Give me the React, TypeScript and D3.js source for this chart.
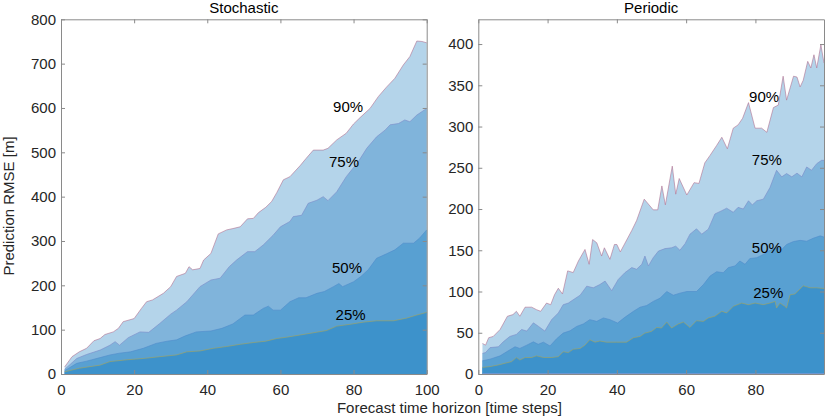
import * as d3 from "d3";
import { useEffect, useRef } from "react";

type Pt = [number, number];

// Stochastic panel: percentile curves, [time step, RMSE]
const stoch90: Pt[] = [
  [1, 16], [3, 39], [5, 50], [7, 58], [9, 75], [10.7, 80], [12, 89], [14.3, 95], [15.7, 103], [17, 118],
  [20, 125], [22, 148], [23.4, 163], [25, 167], [28, 182], [30, 197], [31.6, 220], [34, 227], [35, 242],
  [36, 235], [38, 238], [39, 257], [41, 272], [43, 316], [45.3, 325], [47, 328], [49, 332], [51, 350],
  [52.6, 351], [54, 364], [56, 376], [57.6, 389], [59, 409], [60.8, 438], [62.6, 445], [65.4, 470],
  [67, 486], [69, 505], [71.7, 505], [73, 509], [75.4, 528], [78, 543], [80, 564], [82, 580], [84.5, 599],
  [86.8, 626], [89, 647], [91.3, 667], [93.6, 697], [95.4, 716], [97.3, 751], [98.7, 750], [100, 747],
];
const stoch75: Pt[] = [
  [1, 10.5], [4.3, 35], [7, 44], [10.7, 54], [13.4, 65], [14.8, 73], [16, 65], [18.4, 82], [21.6, 95],
  [24, 94], [27, 114], [30, 135], [31.6, 144], [34.4, 163], [38, 197], [41, 212], [43.5, 216], [46, 242],
  [48, 257], [51, 276], [53, 276], [55.3, 291], [58, 313], [60, 332], [62.6, 344], [63.5, 355], [65.8, 358],
  [67.6, 385], [70, 392], [71.7, 400], [73, 391], [75.4, 411], [78, 445], [81.3, 479], [83.6, 509],
  [86.3, 535], [88.6, 550], [90, 562], [92.3, 565], [94, 573], [95.4, 569], [97.3, 584], [100, 599],
];
const stoch50: Pt[] = [
  [1, 7.5], [4.3, 24], [7, 29], [10.7, 37], [13.4, 43], [16, 47], [19, 50], [22.5, 58], [26, 69], [29, 74],
  [31.6, 77], [34, 86], [37, 95], [41, 97], [44, 103], [47, 113], [50.3, 133], [52.6, 133], [55.3, 148],
  [56.7, 153], [58, 144], [60, 144], [62.6, 163], [65, 172], [67, 172], [70, 182], [72, 186], [74.5, 197],
  [76, 204], [77, 197], [80, 208], [82, 220], [84, 235], [86.3, 261], [89, 271], [91.3, 280], [93.6, 295],
  [96.4, 295], [98, 306], [100, 325],
];
const stoch25: Pt[] = [
  [1, 5], [5, 13], [10.7, 20], [13.4, 28], [18, 32], [22.5, 35], [27, 39], [31.6, 43], [34.4, 50], [38, 52],
  [41.7, 58], [45.3, 62], [49, 67], [52.6, 71], [56, 74], [59, 80], [61.7, 83], [65.4, 88], [69, 93],
  [72.6, 98], [75.4, 108], [79, 112], [82.7, 117], [86.3, 120], [90.9, 120], [94.5, 126], [97.3, 133],
  [100, 139],
];

// Periodic panel
const per90: Pt[] = [
  [1.2, 37], [2.1, 35], [3, 44], [4.3, 45.5], [6.3, 54], [8.4, 70], [10, 72], [11, 76], [12, 70], [13.5, 81],
  [15.4, 81], [16.8, 78], [18, 76], [19.7, 86], [20.9, 84], [22, 96], [23.1, 104], [24.3, 97], [25.8, 125],
  [27.4, 123], [28.9, 137], [30.8, 151], [32, 133], [33, 163], [34.2, 159], [35.6, 143], [36.4, 153],
  [38, 139], [39.3, 157], [40, 157], [41, 148], [44.3, 174], [45.7, 186], [47.9, 212], [50.5, 199],
  [51.8, 199], [53, 228], [54, 205], [56, 252], [57, 218], [58, 237], [60.2, 217], [62.3, 232], [63.7, 231],
  [65.4, 256], [66.9, 265], [68.8, 277], [70.3, 287], [71.9, 273], [73.6, 298], [75, 302], [76.3, 310],
  [78, 329], [79.9, 298], [81.8, 298], [83.3, 293], [85.2, 323], [86.6, 326], [88, 361], [89, 332],
  [91, 361], [92, 360], [92.9, 348], [93.8, 356], [95.1, 379], [96, 371], [96.9, 387], [97.7, 371],
  [98.9, 399], [99.8, 377],
];
const per75: Pt[] = [
  [1.2, 25], [2.1, 26], [3.4, 32], [5.8, 33], [7.2, 39], [9.1, 45.5], [11, 48], [12.5, 54], [14, 52],
  [15.9, 62], [17.3, 58], [19.2, 52], [21.2, 66], [23.1, 74], [24.5, 84], [26, 86], [27.4, 90], [29.4, 95.5],
  [31.3, 106.5], [33.2, 104.5], [35.1, 108.5], [36.6, 112.6], [38.5, 101], [40.4, 114.6], [42.3, 122.8],
  [44.3, 129], [45.7, 127], [47.2, 133], [48.1, 143], [49.1, 131], [50.5, 141], [52, 149], [53.9, 152],
  [55.8, 153], [57, 155], [58.2, 150], [59.7, 158], [61.1, 169.5], [63, 176], [64.5, 169.5], [66.4, 175.6],
  [68.3, 194], [70.3, 198], [71.7, 201], [73.6, 196], [75, 202], [76.5, 200], [78, 210], [79.1, 205],
  [80.4, 210], [82.3, 212], [84.2, 226], [86.1, 247], [87.6, 239], [89, 243], [90.5, 239], [92, 243.5],
  [93.4, 239], [94.8, 251], [96.2, 247], [97.7, 255], [99.1, 259], [99.8, 259],
];
const per50: Pt[] = [
  [1.2, 16], [3.4, 18], [6.3, 22], [8.2, 27], [10.6, 33], [12, 31], [14, 35], [15.9, 39], [17.3, 36],
  [18.8, 38.6], [20.7, 34], [22.6, 42.7], [24.5, 49.6], [26.5, 52.4], [28.4, 57.7], [30.3, 60.6],
  [32.2, 65.9], [34.2, 63.8], [36.1, 68], [38, 65.9], [40.2, 61.8], [42.3, 68.7], [44.8, 76], [46.7, 81],
  [48.6, 83], [50.5, 88], [52.5, 92], [54.4, 100], [56.3, 95.5], [58.2, 98], [60.2, 100], [63, 100],
  [65, 108.5], [66.9, 118.7], [68.8, 124], [70.7, 122.8], [72.2, 129], [74.1, 131], [75.5, 137], [77, 133],
  [78.4, 140], [80.4, 141], [82.3, 145], [84.2, 150], [86.1, 153], [87.6, 151], [89, 157], [91, 160.6],
  [92.9, 162], [94.8, 161], [96.7, 164.6], [98.7, 167.5], [99.8, 166],
];
const per25: Pt[] = [
  [1.2, 8], [3.4, 9], [5.8, 11], [7.7, 13], [9.6, 15], [11, 20], [12, 17], [13.5, 20], [15.4, 20], [16.8, 22],
  [18.8, 20], [21.2, 20], [23.1, 21], [24.5, 27], [26, 26], [27.4, 30], [29.4, 31], [30.8, 35], [32.2, 41.5],
  [33.7, 38.6], [35.1, 40], [37, 38.6], [40, 38.6], [42.8, 38.6], [44.8, 44], [46.7, 45.5], [48.1, 49.6],
  [50, 51.6], [51.5, 56.5], [52.9, 55.7], [54.4, 63], [55.8, 55.7], [57.7, 60.6], [59.2, 63], [61.1, 56.5],
  [63, 64.6], [65, 63.8], [66.4, 68], [68.3, 70], [70.3, 76], [71.7, 74], [73.6, 82], [76, 86], [78, 84],
  [79.9, 86], [82.3, 84], [84.2, 86], [85.7, 88], [86.1, 80], [87.1, 86], [88.5, 82], [89, 80], [90, 96],
  [91.4, 97], [93.8, 107], [95.8, 104.5], [97.7, 104.5], [99.8, 103.7],
];

const levels = ["90%", "75%", "50%", "25%"];
const fills = ["#b4d4ea", "#80b4db", "#58a0d2", "#3d92cb"];
const edges = ["#b07090", "#7a8ac8", "#4f8ccb", "#a8a458"];

const stochLabelPos: Pt[] = [[78.5, 602], [77.4, 478], [78.2, 241], [79.2, 135]];
const perLabelPos: Pt[] = [[82.5, 336], [83.3, 260], [83.3, 153], [83.7, 99]];

const stochXTicks = [0, 20, 40, 60, 80, 100];
const stochYTicks = [0, 100, 200, 300, 400, 500, 600, 700, 800];
const perXTicks = [0, 20, 40, 60, 80];
const perYTicks = [0, 50, 100, 150, 200, 250, 300, 350, 400];

const FONT = "'Liberation Sans', Arial, Helvetica, sans-serif";

interface PanelProps {
  title: string;
  series: Pt[][];
  labelPos: Pt[];
  xDomain: [number, number];
  yDomain: [number, number];
  xTicks: number[];
  yTicks: number[];
  left: number;
  right: number;
  baseLine?: string;
}

function drawPanel(svg: d3.Selection<SVGSVGElement, unknown, null, undefined>, p: PanelProps) {
  const top = 19.3;
  const bottom = 374;
  const x = d3.scaleLinear().domain(p.xDomain).range([p.left, p.right]);
  const y = d3.scaleLinear().domain(p.yDomain).range([bottom, top]);
  const g = svg.append("g");

  const area = d3.area<Pt>().x(d => x(d[0])).y0(y(0)).y1(d => y(d[1]));
  const line = d3.line<Pt>().x(d => x(d[0])).y(d => y(d[1]));

  p.series.forEach((s, i) => {
    g.append("path").attr("d", area(s)).attr("fill", fills[i]);
    g.append("path").attr("d", line(s)).attr("fill", "none")
      .attr("stroke", edges[i]).attr("stroke-width", 0.6);
  });

  if (p.baseLine) {
    g.append("line").attr("x1", x(p.series[0][0][0])).attr("x2", p.right)
      .attr("y1", bottom).attr("y2", bottom)
      .attr("stroke", p.baseLine).attr("stroke-width", 1.2);
  }

  p.series.forEach((_, i) => {
    g.append("text")
      .attr("x", x(p.labelPos[i][0])).attr("y", y(p.labelPos[i][1]))
      .attr("dy", "0.36em").attr("text-anchor", "middle")
      .attr("font-family", FONT).attr("font-size", 15).attr("fill", "#000")
      .text(levels[i]);
  });

  const axisColor = "#8a8a8a";
  const style = (sel: d3.Selection<SVGGElement, unknown, null, undefined>) => {
    sel.select(".domain").attr("stroke", axisColor);
    sel.selectAll(".tick line").attr("stroke", axisColor);
    sel.selectAll(".tick text").attr("fill", "#262626")
      .attr("font-family", FONT).attr("font-size", 15);
  };

  g.append("g").attr("transform", `translate(0,${bottom})`)
    .call(d3.axisBottom(x).tickValues(p.xTicks).tickSizeInner(-4).tickSizeOuter(0).tickPadding(10))
    .call(style);
  g.append("g").attr("transform", `translate(0,${top})`)
    .call(d3.axisTop(x).tickValues(p.xTicks).tickSizeInner(-4).tickSizeOuter(0).tickFormat(() => ""))
    .call(style);
  g.append("g").attr("transform", `translate(${p.left},0)`)
    .call(d3.axisLeft(y).tickValues(p.yTicks).tickSizeInner(-4).tickSizeOuter(0).tickPadding(5))
    .call(style);
  g.append("g").attr("transform", `translate(${p.right},0)`)
    .call(d3.axisRight(y).tickValues(p.yTicks).tickSizeInner(-4).tickSizeOuter(0).tickFormat(() => ""))
    .call(style);

  g.append("text")
    .attr("x", (p.left + p.right) / 2).attr("y", 13.3)
    .attr("text-anchor", "middle").attr("font-family", FONT).attr("font-size", 15).attr("fill", "#000")
    .text(p.title);
}

export default function App() {
  const ref = useRef<SVGSVGElement | null>(null);

  useEffect(() => {
    const svg = d3.select(ref.current!);
    svg.selectAll("*").remove();

    drawPanel(svg, {
      title: "Stochastic",
      series: [stoch90, stoch75, stoch50, stoch25],
      labelPos: stochLabelPos,
      xDomain: [0, 100],
      yDomain: [0, 800],
      xTicks: stochXTicks,
      yTicks: stochYTicks,
      left: 61,
      right: 426.7,
    });
    drawPanel(svg, {
      title: "Periodic",
      series: [per90, per75, per50, per25],
      labelPos: perLabelPos,
      xDomain: [0, 99.8],
      yDomain: [0, 430],
      xTicks: perXTicks,
      yTicks: perYTicks,
      left: 478.3,
      right: 824,
      baseLine: "#9c9ad6",
    });

    svg.append("text")
      .attr("x", 449.5).attr("y", 413)
      .attr("text-anchor", "middle").attr("font-family", FONT).attr("font-size", 15).attr("fill", "#262626")
      .text("Forecast time horizon [time steps]");
    svg.append("text")
      .attr("transform", "translate(13.5,206) rotate(-90)")
      .attr("text-anchor", "middle").attr("font-family", FONT).attr("font-size", 15).attr("fill", "#262626")
      .text("Prediction RMSE [m]");
  }, []);

  return (
    <svg
      ref={ref}
      width={830}
      height={417}
      style={{ position: "absolute", left: 0, top: 0, background: "#fff" }}
    />
  );
}
